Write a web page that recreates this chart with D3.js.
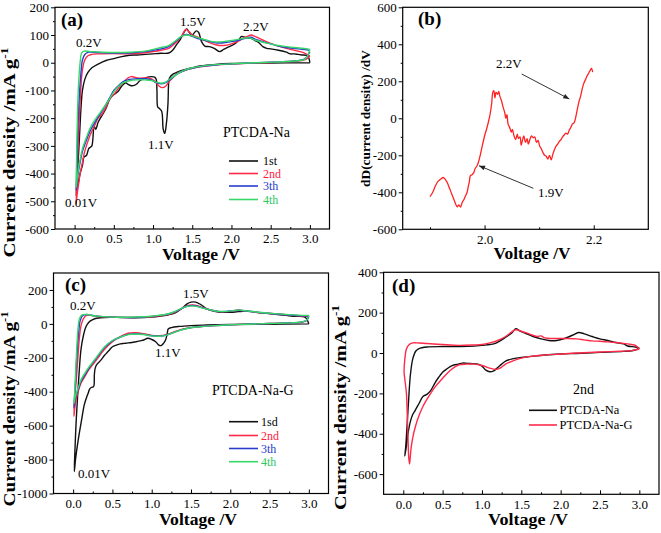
<!DOCTYPE html>
<html><head><meta charset="utf-8">
<script src="https://cdn.jsdelivr.net/npm/d3@7"></script>
<style>
body{margin:0;background:#fff;}
svg{display:block;font-family:"Liberation Serif","Times New Roman",serif;}
</style></head><body>
<svg id="chart" width="661" height="533"></svg>
<script>
// ---------- DATA ----------
const cycleLabelsA = ["1st", "2nd", "3th", "4th"];
const cycleLabelsC = ["1sd", "2nd", "3th", "4th"];
const sampleLabelsD = ["PTCDA-Na", "PTCDA-Na-G"];

const xTicksCV = [0, 0.5, 1.0, 1.5, 2.0, 2.5, 3.0];
const xMinorCV = [0.25, 0.75, 1.25, 1.75, 2.25, 2.75];
const yTicksA = [200, 100, 0, -100, -200, -300, -400, -500, -600];
const yMinorA = [150, 50, -50, -150, -250, -350, -450, -550];
const xTicksB = [2.0, 2.2];
const xMinorB = [1.9, 2.1];
const yTicksB = [600, 400, 200, 0, -200, -400, -600];
const yMinorB = [500, 300, 100, -100, -300, -500];
const yTicksC = [200, 0, -200, -400, -600, -800, -1000];
const yMinorC = [100, -100, -300, -500, -700, -900];
const yTicksD = [400, 200, 0, -200, -400, -600];
const yMinorD = [300, 100, -100, -300, -500];

// Panel (a): PTCDA-Na, [voltage V, current mA/g]
const aCycle1 = [[3.0,0],[2.5,-1],[2.0,-3],[1.8,-6],[1.6,-12],[1.5,-18],[1.4,-25],[1.3,-35],[1.25,-42],[1.21,-55],[1.2,-70],[1.19,-150],[1.17,-220],[1.15,-255],[1.13,-240],[1.11,-175],[1.08,-165],[1.06,-160],[1.05,-100],[1.04,-60],[1.02,-52],[0.98,-50],[0.93,-52],[0.88,-58],[0.83,-65],[0.8,-75],[0.76,-82],[0.72,-83],[0.68,-78],[0.65,-72],[0.6,-85],[0.55,-105],[0.5,-115],[0.45,-130],[0.4,-165],[0.35,-190],[0.3,-215],[0.27,-240],[0.25,-230],[0.22,-300],[0.2,-305],[0.18,-310],[0.15,-335],[0.12,-340],[0.1,-370],[0.07,-400],[0.05,-430],[0.03,-460],[0.02,-480],[0.025,-440],[0.04,-380],[0.06,-280],[0.08,-170],[0.1,-100],[0.13,-60],[0.17,-35],[0.22,-18],[0.3,-5],[0.4,8],[0.5,15],[0.6,22],[0.7,27],[0.8,28],[0.9,30],[1.0,32],[1.1,34],[1.2,35],[1.25,45],[1.3,65],[1.35,85],[1.4,112],[1.43,122],[1.46,110],[1.5,100],[1.55,115],[1.58,110],[1.62,75],[1.66,60],[1.72,58],[1.78,52],[1.85,40],[1.9,48],[1.95,55],[2.0,62],[2.05,70],[2.1,85],[2.13,95],[2.17,92],[2.2,90],[2.25,88],[2.3,80],[2.35,72],[2.4,58],[2.45,52],[2.5,50],[2.6,45],[2.7,38],[2.75,32],[2.8,32],[2.85,30],[2.9,28],[2.97,25],[3.0,0]];
const aCycle2 = [[3.0,25],[2.95,12],[2.9,8],[2.7,4],[2.5,1],[2.2,-2],[2.0,-5],[1.8,-8],[1.6,-15],[1.5,-20],[1.4,-28],[1.3,-40],[1.25,-55],[1.2,-70],[1.16,-85],[1.12,-90],[1.08,-85],[1.04,-72],[1.0,-62],[0.95,-55],[0.9,-55],[0.8,-55],[0.72,-50],[0.68,-55],[0.62,-70],[0.55,-95],[0.5,-115],[0.45,-130],[0.4,-160],[0.35,-185],[0.3,-200],[0.25,-230],[0.2,-260],[0.15,-300],[0.12,-330],[0.1,-360],[0.07,-400],[0.05,-440],[0.03,-480],[0.02,-510],[0.03,-430],[0.04,-330],[0.06,-200],[0.08,-90],[0.1,-25],[0.13,10],[0.17,25],[0.22,30],[0.3,32],[0.5,33],[0.7,32],[0.9,36],[1.0,40],[1.1,45],[1.2,52],[1.3,75],[1.36,95],[1.42,120],[1.46,112],[1.5,100],[1.55,95],[1.6,88],[1.7,75],[1.8,65],[1.9,62],[2.0,68],[2.1,80],[2.15,90],[2.2,95],[2.25,100],[2.3,95],[2.4,82],[2.5,70],[2.6,60],[2.7,52],[2.8,45],[2.9,38],[2.95,32],[3.0,25]];
const aCycle3 = [[3.0,40],[2.95,18],[2.9,10],[2.7,5],[2.5,2],[2.2,-1],[2.0,-4],[1.8,-8],[1.6,-14],[1.5,-20],[1.4,-28],[1.3,-42],[1.22,-60],[1.16,-72],[1.1,-76],[1.04,-72],[0.98,-62],[0.9,-58],[0.8,-58],[0.7,-60],[0.62,-68],[0.55,-85],[0.5,-100],[0.45,-125],[0.4,-150],[0.35,-175],[0.3,-195],[0.25,-220],[0.2,-245],[0.15,-280],[0.1,-320],[0.07,-360],[0.04,-410],[0.02,-460],[0.03,-380],[0.04,-250],[0.06,-120],[0.08,-40],[0.1,10],[0.13,30],[0.18,38],[0.3,37],[0.5,35],[0.7,35],[0.9,40],[1.0,45],[1.1,50],[1.2,58],[1.3,80],[1.38,98],[1.43,102],[1.5,95],[1.6,85],[1.7,78],[1.8,72],[1.9,72],[2.0,76],[2.1,82],[2.2,90],[2.25,92],[2.3,85],[2.4,76],[2.5,68],[2.6,60],[2.7,55],[2.8,52],[2.9,48],[3.0,45]];
const aCycle4 = [[3.0,48],[2.97,25],[2.93,12],[2.8,6],[2.5,2],[2.2,-1],[2.0,-4],[1.8,-7],[1.6,-13],[1.5,-18],[1.4,-27],[1.3,-42],[1.22,-58],[1.16,-70],[1.1,-74],[1.04,-70],[0.98,-64],[0.9,-62],[0.8,-62],[0.7,-65],[0.62,-72],[0.55,-88],[0.5,-105],[0.45,-128],[0.4,-150],[0.35,-170],[0.3,-190],[0.25,-210],[0.2,-235],[0.15,-270],[0.1,-310],[0.07,-350],[0.04,-400],[0.02,-450],[0.025,-350],[0.035,-200],[0.05,-80],[0.07,0],[0.09,35],[0.12,42],[0.2,40],[0.35,38],[0.5,37],[0.7,38],[0.9,42],[1.0,48],[1.1,55],[1.2,62],[1.3,82],[1.36,95],[1.42,100],[1.5,97],[1.6,88],[1.7,80],[1.8,75],[1.9,76],[2.0,80],[2.1,85],[2.2,90],[2.25,88],[2.3,82],[2.4,74],[2.5,68],[2.6,62],[2.7,58],[2.8,55],[2.9,52],[2.97,50],[3.0,48]];

// Panel (b): derivative curve [voltage V, dD/dV]
const bDeriv = [[1.900,-424],[1.905,-400],[1.910,-365],[1.915,-340],[1.920,-328],[1.924,-320],[1.928,-330],[1.932,-350],[1.936,-380],[1.940,-410],[1.944,-440],[1.948,-470],[1.950,-478],[1.953,-468],[1.956,-480],[1.959,-455],[1.962,-440],[1.965,-420],[1.968,-400],[1.970,-370],[1.972,-345],[1.974,-310],[1.977,-305],[1.980,-295],[1.983,-270],[1.986,-258],[1.989,-235],[1.992,-200],[1.995,-160],[1.998,-120],[2.001,-85],[2.004,-55],[2.007,-20],[2.010,20],[2.013,80],[2.015,140],[2.017,150],[2.019,110],[2.021,140],[2.024,130],[2.026,145],[2.028,120],[2.031,95],[2.034,60],[2.037,30],[2.039,0],[2.041,20],[2.043,-30],[2.046,-50],[2.049,-75],[2.051,-60],[2.054,-95],[2.057,-115],[2.060,-85],[2.062,-110],[2.065,-100],[2.067,-145],[2.069,-125],[2.072,-95],[2.075,-130],[2.078,-110],[2.080,-140],[2.083,-115],[2.086,-95],[2.089,-105],[2.092,-100],[2.095,-130],[2.098,-120],[2.101,-150],[2.104,-165],[2.107,-185],[2.110,-200],[2.113,-205],[2.116,-220],[2.119,-200],[2.122,-225],[2.125,-195],[2.128,-170],[2.131,-150],[2.134,-140],[2.137,-125],[2.140,-115],[2.143,-100],[2.146,-90],[2.149,-80],[2.152,-85],[2.155,-65],[2.158,-50],[2.161,-30],[2.164,-25],[2.167,5],[2.170,50],[2.173,90],[2.176,120],[2.179,160],[2.182,190],[2.185,210],[2.188,230],[2.191,245],[2.194,262],[2.196,270],[2.198,250]];

// Panel (c): PTCDA-Na-G
const cCycle1 = [[3.0,0],[2.5,-2],[2.0,-4],[1.7,-7],[1.5,-10],[1.35,-15],[1.25,-22],[1.21,-30],[1.2,-50],[1.18,-90],[1.15,-115],[1.12,-128],[1.09,-125],[1.05,-105],[1.0,-92],[0.95,-85],[0.9,-95],[0.85,-100],[0.8,-105],[0.75,-110],[0.7,-112],[0.65,-115],[0.6,-118],[0.55,-125],[0.5,-135],[0.45,-160],[0.4,-185],[0.35,-215],[0.3,-240],[0.28,-262],[0.27,-300],[0.26,-370],[0.23,-375],[0.21,-385],[0.19,-410],[0.17,-435],[0.14,-480],[0.11,-560],[0.08,-640],[0.05,-730],[0.03,-800],[0.015,-870],[0.02,-780],[0.04,-560],[0.06,-400],[0.08,-260],[0.1,-150],[0.13,-70],[0.16,-20],[0.2,10],[0.25,25],[0.3,33],[0.4,38],[0.6,38],[0.8,36],[1.0,40],[1.1,45],[1.2,52],[1.3,65],[1.38,90],[1.45,118],[1.5,128],[1.56,128],[1.62,115],[1.68,95],[1.75,80],[1.85,70],[2.0,68],[2.1,72],[2.2,75],[2.4,65],[2.6,55],[2.8,45],[2.95,40],[3.0,0]];
const cCycle2 = [[3.0,45],[2.97,20],[2.9,10],[2.7,5],[2.5,2],[2.2,-2],[2.0,-5],[1.8,-10],[1.6,-17],[1.5,-22],[1.4,-30],[1.3,-45],[1.2,-62],[1.1,-70],[1.0,-68],[0.9,-58],[0.8,-52],[0.7,-55],[0.6,-75],[0.5,-105],[0.4,-150],[0.3,-210],[0.25,-240],[0.2,-270],[0.15,-310],[0.1,-350],[0.07,-390],[0.04,-440],[0.02,-500],[0.01,-545],[0.02,-440],[0.04,-330],[0.06,-200],[0.08,-80],[0.1,-10],[0.13,30],[0.17,50],[0.22,50],[0.3,45],[0.5,40],[0.7,38],[0.9,40],[1.0,42],[1.1,48],[1.2,55],[1.3,70],[1.38,90],[1.45,108],[1.52,112],[1.58,108],[1.65,95],[1.75,82],[1.85,72],[1.95,72],[2.05,78],[2.12,80],[2.2,75],[2.4,65],[2.6,58],[2.8,50],[2.95,45],[3.0,45]];
const cCycle3 = [[3.0,45],[2.97,20],[2.9,10],[2.7,5],[2.5,2],[2.2,-2],[2.0,-5],[1.8,-10],[1.6,-17],[1.5,-22],[1.4,-32],[1.3,-47],[1.2,-64],[1.1,-72],[1.0,-70],[0.9,-62],[0.8,-58],[0.7,-62],[0.6,-78],[0.5,-100],[0.4,-140],[0.3,-200],[0.25,-230],[0.2,-262],[0.15,-300],[0.1,-340],[0.07,-380],[0.04,-420],[0.02,-460],[0.01,-495],[0.02,-420],[0.035,-300],[0.05,-170],[0.07,-50],[0.09,20],[0.12,48],[0.17,55],[0.22,52],[0.3,46],[0.5,40],[0.7,38],[0.9,41],[1.0,44],[1.1,50],[1.2,57],[1.3,72],[1.38,90],[1.45,104],[1.52,108],[1.58,104],[1.65,94],[1.75,82],[1.85,73],[1.95,73],[2.05,78],[2.12,80],[2.2,76],[2.4,66],[2.6,58],[2.8,51],[2.95,47],[3.0,47]];
const cCycle4 = [[3.0,50],[2.97,22],[2.9,11],[2.7,5],[2.5,2],[2.2,-2],[2.0,-5],[1.8,-10],[1.6,-17],[1.5,-23],[1.4,-33],[1.3,-48],[1.2,-65],[1.1,-73],[1.0,-71],[0.9,-63],[0.8,-60],[0.7,-63],[0.6,-78],[0.5,-98],[0.4,-135],[0.3,-195],[0.25,-225],[0.2,-255],[0.15,-290],[0.1,-330],[0.07,-370],[0.04,-410],[0.02,-445],[0.01,-470],[0.02,-400],[0.03,-300],[0.045,-150],[0.06,-40],[0.08,30],[0.11,52],[0.15,56],[0.22,52],[0.3,46],[0.5,40],[0.7,39],[0.9,42],[1.0,45],[1.1,51],[1.2,58],[1.3,74],[1.38,92],[1.45,103],[1.52,106],[1.58,102],[1.65,93],[1.75,82],[1.85,74],[1.95,74],[2.05,79],[2.12,81],[2.2,77],[2.4,67],[2.6,59],[2.8,53],[2.95,50],[3.0,50]];

// Panel (d): 2nd cycle comparison
const dNa = [[3.0,25],[2.95,15],[2.8,8],[2.5,3],[2.2,-2],[2.0,-5],[1.8,-10],[1.6,-18],[1.5,-22],[1.4,-28],[1.3,-40],[1.25,-55],[1.2,-72],[1.15,-88],[1.1,-93],[1.05,-85],[1.0,-65],[0.95,-55],[0.85,-52],[0.75,-50],[0.7,-55],[0.62,-62],[0.55,-80],[0.5,-95],[0.45,-120],[0.4,-150],[0.35,-185],[0.3,-205],[0.25,-215],[0.2,-250],[0.15,-285],[0.12,-305],[0.09,-340],[0.06,-400],[0.04,-460],[0.02,-510],[0.03,-470],[0.05,-350],[0.07,-220],[0.09,-110],[0.12,-30],[0.16,10],[0.2,22],[0.3,30],[0.5,32],[0.7,32],[0.9,34],[1.0,38],[1.1,42],[1.15,45],[1.22,58],[1.3,78],[1.38,100],[1.43,120],[1.48,110],[1.55,98],[1.65,82],[1.75,70],[1.85,62],[1.95,62],[2.05,72],[2.15,88],[2.23,102],[2.3,95],[2.4,82],[2.5,70],[2.6,62],[2.7,52],[2.8,45],[2.85,35],[2.95,30],[3.0,25]];
const dNaG = [[3.0,20],[2.9,12],[2.7,8],[2.5,5],[2.2,0],[2.0,-5],[1.8,-10],[1.6,-18],[1.5,-25],[1.4,-38],[1.3,-55],[1.25,-70],[1.2,-80],[1.15,-80],[1.1,-75],[1.0,-62],[0.9,-55],[0.8,-55],[0.7,-60],[0.6,-85],[0.5,-125],[0.4,-170],[0.3,-230],[0.25,-265],[0.2,-310],[0.15,-370],[0.12,-420],[0.1,-470],[0.09,-510],[0.08,-550],[0.07,-520],[0.06,-420],[0.05,-300],[0.04,-200],[0.02,-130],[0.01,-90],[0.02,-30],[0.04,20],[0.07,40],[0.12,50],[0.2,50],[0.3,47],[0.5,42],[0.7,38],[0.9,40],[1.0,42],[1.1,50],[1.2,62],[1.3,82],[1.38,105],[1.43,115],[1.5,108],[1.6,95],[1.7,82],[1.75,85],[1.8,75],[1.9,72],[2.0,72],[2.1,72],[2.2,70],[2.3,65],[2.4,60],[2.5,58],[2.6,55],[2.7,52],[2.8,48],[2.9,42],[2.95,38],[3.0,20]];

// ---------- DRAWING ----------
const COL = {black: "#111111", red: "#ff2a4a", blue: "#2a3ccc", green: "#38d868", bred: "#ff2222"};
const svg = d3.select("#chart");
const FONT = "'Liberation Serif','Times New Roman',serif";

function drawPanel(p) {
  const g = svg.append("g");
  const x = d3.scaleLinear().domain(p.xDomain).range(p.xRange);
  const y = d3.scaleLinear().domain(p.yDomain).range(p.yRange);
  const yb = p.yRange[0], xl = p.xRange[0];

  g.append("g").attr("transform", `translate(0,${yb})`)
    .call(d3.axisBottom(x).tickValues(p.xTicks).tickFormat(d => d.toFixed(1)).tickSize(-4).tickPadding(5).tickSizeOuter(0));
  g.append("g").attr("transform", `translate(0,${yb})`)
    .call(d3.axisBottom(x).tickValues(p.xMinor).tickFormat("").tickSize(-2).tickSizeOuter(0));
  g.append("g").attr("transform", `translate(${xl},0)`)
    .call(d3.axisLeft(y).tickValues(p.yTicks).tickFormat(d => String(d)).tickSize(4).tickPadding(2).tickSizeOuter(0));
  g.append("g").attr("transform", `translate(${xl},0)`)
    .call(d3.axisLeft(y).tickValues(p.yMinor).tickFormat("").tickSize(2).tickSizeOuter(0));
  g.selectAll(".domain").remove();
  g.selectAll(".tick line").attr("stroke", "#000").attr("stroke-width", 1);
  g.selectAll(".tick text").attr("font-family", FONT).attr("font-size", 13).attr("fill", "#000");

  const line = d3.line().x(d => x(d[0])).y(d => y(d[1])).curve(d3.curveCatmullRom.alpha(0.5));
  p.series.forEach(s => {
    g.append("path").datum(s.data).attr("d", line)
      .attr("fill", "none").attr("stroke", s.color).attr("stroke-width", s.width || 1.4)
      .attr("stroke-linejoin", "round");
  });

  g.append("rect").attr("x", p.xRange[0]).attr("y", p.yRange[1])
    .attr("width", p.xRange[1] - p.xRange[0]).attr("height", p.yRange[0] - p.yRange[1])
    .attr("fill", "none").attr("stroke", "#000").attr("stroke-width", 1.2);
  return {x, y, g};
}

function label(txt, x, y, opt = {}) {
  return svg.append("text").attr("x", x).attr("y", y).text(txt)
    .attr("font-family", FONT).attr("font-size", opt.size || 13)
    .attr("font-weight", opt.bold ? "bold" : "normal")
    .attr("fill", opt.color || "#000");
}

function xTitle(cx, by, target) {
  const t = svg.append("text").attr("text-anchor", "middle").attr("font-family", FONT)
    .attr("font-weight", "bold").attr("font-size", 16).text("Voltage /V");
  const L = t.node().getComputedTextLength();
  t.attr("transform", `translate(${cx},${by}) scale(${target / L},1)`);
}

function yTitle(main, sup, bx, cy, size, target) {
  const t = svg.append("text").attr("text-anchor", "middle").attr("font-family", FONT)
    .attr("font-weight", "bold").attr("font-size", size);
  t.append("tspan").text(main);
  if (sup) t.append("tspan").attr("font-size", size * 0.65).attr("dy", -size * 0.42).text(sup);
  const L = t.node().getComputedTextLength();
  t.attr("transform", `translate(${bx},${cy}) rotate(-90) scale(${target / L},1)`);
}

function legend(items, x0, x1, tx, rows, size) {
  items.forEach((it, i) => {
    svg.append("line").attr("x1", x0).attr("x2", x1).attr("y1", rows[i]).attr("y2", rows[i])
      .attr("stroke", it.color).attr("stroke-width", 1.6);
    label(it.text, tx, rows[i] + 4, {color: it.textColor, size: size || 12});
  });
}

// Panel (a)
const colorsCV = [COL.black, COL.red, COL.blue, COL.green];
const textColorsCV = ["#000", "#ff2040", "#2a3ccc", "#30c860"];
drawPanel({
  xDomain: [-0.25, 3.25], xRange: [55, 329.5], yDomain: [-600, 200], yRange: [229, 7.3],
  xTicks: xTicksCV, xMinor: xMinorCV, yTicks: yTicksA, yMinor: yMinorA,
  series: [aCycle1, aCycle2, aCycle3, aCycle4].map((d, i) => ({data: d, color: colorsCV[i]}))
});
label("(a)", 61, 26, {bold: true, size: 19});
label("0.2V", 76, 47);
label("1.5V", 180, 26);
label("2.2V", 243, 31);
label("1.1V", 148, 149);
label("0.01V", 65, 207);
label("PTCDA-Na", 223, 137, {size: 14});
legend(cycleLabelsA.map((t, i) => ({text: t, color: colorsCV[i], textColor: textColorsCV[i]})),
  229, 258, 263, [161, 173.5, 186, 199.5]);
xTitle(201, 260, 78);
yTitle("Current density /mA g", "-1", 15, 152.5, 16, 210);

// Panel (b)
drawPanel({
  xDomain: [1.85, 2.3], xRange: [402.7, 648.3], yDomain: [-600, 600], yRange: [229.3, 7.3],
  xTicks: xTicksB, xMinor: xMinorB, yTicks: yTicksB, yMinor: yMinorB,
  series: [{data: bDeriv, color: COL.bred, width: 1.3}]
});
label("(b)", 418, 25, {bold: true, size: 19});
label("2.2V", 496, 68);
label("1.9V", 538, 197);
svg.append("defs").append("marker").attr("id", "arr").attr("viewBox", "0 0 10 10")
  .attr("refX", 10).attr("refY", 5).attr("markerWidth", 7).attr("markerHeight", 6)
  .attr("orient", "auto").append("path").attr("d", "M0,1 L10,5 L0,9 z").attr("fill", "#222");
svg.append("line").attr("x1", 521.7).attr("y1", 74).attr("x2", 569.3).attr("y2", 99)
  .attr("stroke", "#333").attr("stroke-width", 1).attr("marker-end", "url(#arr)");
svg.append("line").attr("x1", 533.3).attr("y1", 188.3).attr("x2", 479).attr("y2", 165.7)
  .attr("stroke", "#333").attr("stroke-width", 1).attr("marker-end", "url(#arr)");
xTitle(532, 259, 77);
yTitle("dD(current density) /dV", null, 370, 118.5, 13, 137);

// Panel (c)
drawPanel({
  xDomain: [-0.25, 3.25], xRange: [53.5, 328.5], yDomain: [-1000, 300], yRange: [493.5, 273],
  xTicks: xTicksCV, xMinor: xMinorCV, yTicks: yTicksC, yMinor: yMinorC,
  series: [cCycle1, cCycle2, cCycle3, cCycle4].map((d, i) => ({data: d, color: colorsCV[i]}))
});
label("(c)", 65, 291, {bold: true, size: 19});
label("0.2V", 70, 310);
label("1.5V", 183, 298);
label("1.1V", 155, 357);
label("0.01V", 78, 478);
label("PTCDA-Na-G", 212, 395, {size: 14});
legend(cycleLabelsC.map((t, i) => ({text: t, color: colorsCV[i], textColor: textColorsCV[i]})),
  229, 258, 261, [421.7, 435.5, 448.5, 461.7]);
xTitle(198, 525, 78);
yTitle("Current density /mA g", "-1", 15, 409, 16, 195);

// Panel (d)
drawPanel({
  xDomain: [-0.25, 3.25], xRange: [383.6, 659], yDomain: [-700, 400], yRange: [494.3, 272.3],
  xTicks: xTicksCV, xMinor: xMinorCV, yTicks: yTicksD, yMinor: yMinorD,
  series: [{data: dNa, color: COL.black}, {data: dNaG, color: COL.red}]
});
label("(d)", 392, 292, {bold: true, size: 19});
label("2nd", 573, 394, {size: 14});
legend(sampleLabelsD.map((t, i) => ({text: t, color: [COL.black, COL.red][i], textColor: "#000"})),
  529, 557, 559.5, [410.3, 425], 12.5);
xTitle(528, 525, 80);
yTitle("Current density /mA g", "-1", 346, 407.5, 16, 205);
</script>
</body></html>
